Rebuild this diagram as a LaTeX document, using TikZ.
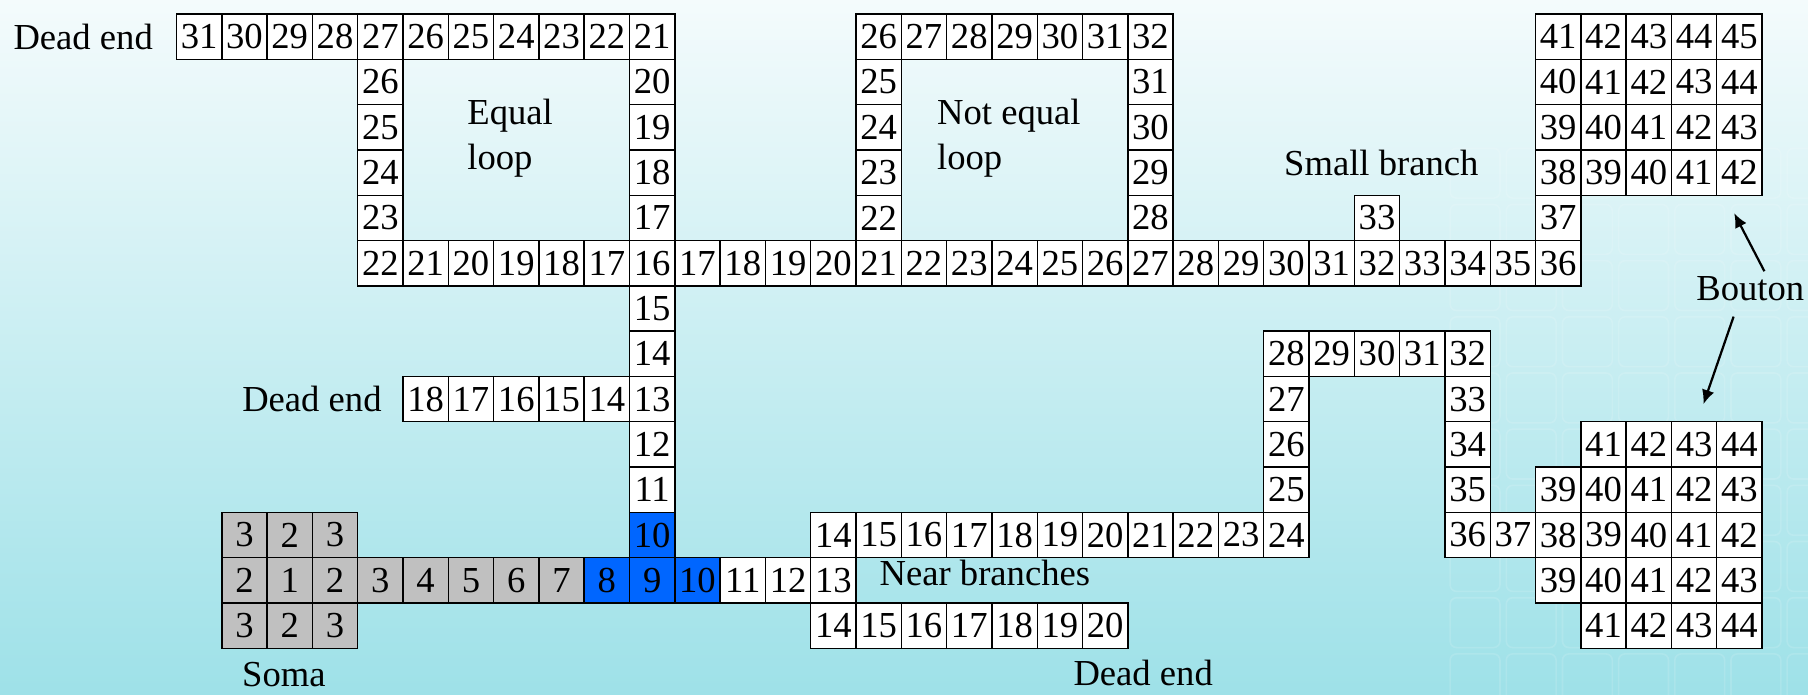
\documentclass[tikz,border=0pt]{standalone}
\usepackage{fontspec}
\setmainfont{Liberation Serif}
\usetikzlibrary{positioning, arrows.meta, calc}

\definecolor{soma_gray}{RGB}{192,192,192}
\definecolor{path_blue}{RGB}{0,102,255}
\definecolor{bg_top}{RGB}{244,251,252}
\definecolor{bg_mid}{RGB}{192,236,240}
\definecolor{bg_bottom}{RGB}{158,225,232}

% a run of numbered cells along a row / down a column
\newcommand{\cellrow}[4]{%
  \foreach \num [count=\k from 0] in {#3} {
    \pgfmathtruncatemacro{\cx}{#2+\k}
    \node[cell, #4] (cell_\cx_#1) at (\cx,-#1) {\num};
  }%
}
\newcommand{\cellcol}[4]{%
  \foreach \num [count=\k from 0] in {#3} {
    \pgfmathtruncatemacro{\ry}{#2+\k}
    \node[cell, #4] (cell_#1_\ry) at (#1,-\ry) {\num};
  }%
}

\begin{document}
\begin{tikzpicture}[
  cell/.style = {draw, line width=0.9pt, fill=white, minimum width=1cm,
                 minimum height=1cm, inner sep=0pt, anchor=north west,
                 font=\fontsize{23}{28}\selectfont},
  soma_cell/.style = {fill=soma_gray},
  blue_cell/.style = {fill=path_blue},
  txt/.style = {inner sep=0pt, font=\fontsize{23}{28}\selectfont},
  pointer/.style = {-{Latex[length=9pt,width=8pt]}, line width=1.4pt}
]
  % Background
  \useasboundingbox (-3.88,-15.03) rectangle (36.03,0.294);
  \shade[top color=bg_top, middle color=bg_mid, bottom color=bg_bottom]
    (-3.88,-15.03) rectangle (36.03,0.294);
  \foreach \i in {0,...,6}
    \foreach \j in {0,...,9}
      \draw[white, opacity=0.13, line width=1pt, rounded corners=4pt]
        (28.13+1.24*\i,-2.98-1.24*\j) rectangle ++(1.1,-1.1);

  % Equal loop
  \cellrow{0}{0}{31,30,29,28,27,26,25,24,23,22,21}{}
  \cellcol{4}{1}{26,25,24,23}{}
  \cellcol{10}{1}{20,19,18,17}{}

  % Not equal loop
  \cellrow{0}{15}{26,27,28,29,30,31,32}{}
  \cellcol{15}{1}{25,24,23,22}{}
  \cellcol{21}{1}{31,30,29,28}{}

  % Main branch with small branch
  \cellrow{5}{4}{22,21,20,19,18,17,16,17,18,19,20,21,22,23,24,25,26,27,28,29,30,31,32,33,34,35,36}{}
  \cellcol{26}{4}{33}{}
  \cellcol{30}{4}{37}{}

  % Upper bouton
  \cellrow{0}{30}{41,42,43,44,45}{}
  \cellrow{1}{30}{40,41,42,43,44}{}
  \cellrow{2}{30}{39,40,41,42,43}{}
  \cellrow{3}{30}{38,39,40,41,42}{}

  % Trunk and dead end
  \cellcol{10}{6}{15,14,13,12,11}{}
  \cellcol{10}{11}{10}{blue_cell}
  \cellrow{8}{5}{18,17,16,15,14}{}

  % Soma
  \cellrow{11}{1}{3,2,3}{soma_cell}
  \cellrow{12}{1}{2,1,2,3,4,5,6,7}{soma_cell}
  \cellrow{13}{1}{3,2,3}{soma_cell}
  \cellrow{12}{9}{8,9,10}{blue_cell}
  \cellrow{12}{12}{11,12,13}{}

  % Near branches
  \cellrow{11}{14}{14,15,16,17,18,19,20,21,22,23}{}
  \cellrow{13}{14}{14,15,16,17,18,19,20}{}

  % Winding branch
  \cellcol{24}{8}{27,26,25,24}{}
  \cellrow{7}{24}{28,29,30,31,32}{}
  \cellcol{28}{8}{33,34,35,36}{}
  \cellrow{11}{29}{37}{}

  % Lower bouton
  \cellrow{9}{31}{41,42,43,44}{}
  \cellrow{10}{30}{39,40,41,42,43}{}
  \cellrow{11}{30}{38,39,40,41,42}{}
  \cellrow{12}{30}{39,40,41,42,43}{}
  \cellrow{13}{31}{41,42,43,44}{}

  % Labels
  \node[txt, left=0.5cm of cell_0_0] (dead_end_top) {Dead end};
  \node[txt, left=0.45cm of cell_5_8] (dead_end_mid) {Dead end};
  \node[txt, align=left, anchor=north west] (equal_loop) at (6.43,-1.89) {Equal\\loop};
  \node[txt, align=left, anchor=north west] (unequal_loop) at (16.80,-1.89) {Not equal\\loop};
  \node[txt, anchor=base west] (small_branch) at (24.46,-3.58) {Small branch};
  \node[txt, anchor=base west] (near_branches) at (15.53,-12.64) {Near branches};
  \node[txt, anchor=base west] (soma) at (1.46,-14.86) {Soma};
  \node[txt, anchor=base west] (dead_end_low) at (19.81,-14.84) {Dead end};
  \node[txt, anchor=base west] (bouton) at (33.56,-6.33) {Bouton};

  % Bouton pointers
  \coordinate (tip_up) at ($(cell_34_3.south west)+(0.4,-0.38)$);
  \coordinate (tip_down) at ($(cell_34_9.north west)+(-0.28,0.37)$);
  \draw[pointer] ([shift={(0.31,0.1)}]bouton.north) -- (tip_up);
  \draw[pointer] ([shift={(-0.37,-0.35)}]bouton.south) -- (tip_down);
\end{tikzpicture}
\end{document}
